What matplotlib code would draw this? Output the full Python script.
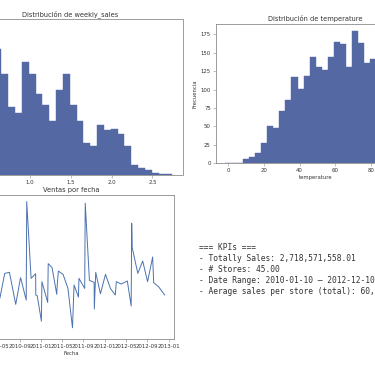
import numpy as np
import pandas as pd
import matplotlib
matplotlib.use("Agg")
import matplotlib.pyplot as plt
import matplotlib.dates as mdates

# ---------------- data ----------------
# weekly_sales histogram (millions), 30 bins between min and max
ws_min, ws_max = 0.227, 2.743
ws_counts = [120, 202, 182, 174, 171, 137, 93, 85, 154, 138,
             110, 95, 74, 116, 138, 96, 73, 44, 39, 68,
             61, 63, 56, 40, 13, 10, 7, 3, 2, 1]

# temperature histogram, 30 bins between min and max
t_min, t_max = -2.06, 100.14
t_counts = [1, 0, 1, 6, 9, 14, 27, 50, 48, 71,
            86, 117, 101, 119, 144, 130, 126, 144, 164, 162,
            131, 180, 163, 136, 142, 110, 88, 57, 29, 9]

# sales per date (millions)
dates = ["2010-01-10", "2010-02-04", "2010-02-07", "2010-03-09", "2010-03-12",
         "2010-04-06", "2010-05-02", "2010-05-03", "2010-05-11", "2010-06-08",
         "2010-07-05", "2010-08-10", "2010-09-04", "2010-09-07", "2010-10-09",
         "2010-10-12", "2010-11-06", "2010-12-02", "2010-12-03", "2010-12-11",
         "2011-01-04", "2011-01-07", "2011-02-09", "2011-02-12", "2011-03-06",
         "2011-04-02", "2011-04-03", "2011-04-11", "2011-05-08", "2011-06-05",
         "2011-07-01", "2011-07-10", "2011-08-04", "2011-08-07", "2011-09-09",
         "2011-09-12", "2011-10-06", "2011-11-02", "2011-11-03", "2011-11-11",
         "2011-12-08", "2012-01-06", "2012-02-03", "2012-03-02", "2012-03-08",
         "2012-04-05", "2012-05-10", "2012-06-01", "2012-06-04", "2012-06-07",
         "2012-07-09", "2012-08-06", "2012-09-03", "2012-10-02", "2012-10-08",
         "2012-11-05", "2012-12-10"]
sales = [42.24, 50.42, 48.92, 45.63, 49.91,
         50.19, 49.75, 46.87, 45.73, 48.30,
         48.41, 45.12, 47.62, 47.86, 45.56,
         55.67, 47.79, 48.27, 46.08, 46.02,
         43.40, 47.45, 45.32, 49.30, 48.89,
         46.15, 46.66, 48.54, 48.20, 46.76,
         42.72, 47.11, 45.87, 47.79, 46.76,
         55.50, 47.58, 47.38, 44.64, 48.41,
         46.21, 48.20, 46.76, 46.08, 47.45,
         47.21, 47.52, 44.95, 53.44, 50.94,
         48.30, 49.57, 47.45, 49.98, 47.34,
         46.93, 46.08]

kpi_lines = ["=== KPIs ===",
             "- Totally Sales: 2,718,571,558.01",
             "- # Stores: 45.00",
             "- Date Range: 2010-01-10 \u2013 2012-12-10",
             "- Aerage sales per store (total): 60,412,701.29"]

# ---------------- style ----------------
plt.rcParams['font.family'] = ['DejaVu Sans']
BAR = '#5468a4'
LINE = '#4c72b0'
SPINE = '#8c8c8c'
TXT = '#333333'

W, H = 375, 366
fig = plt.figure(figsize=(W / 100, H / 100), dpi=100)
fig.patch.set_facecolor('white')


def px_axes(l, t, r, b):
    return fig.add_axes([l / W, 1 - b / H, (r - l) / W, (b - t) / H])


def style(ax):
    for s in ax.spines.values():
        s.set_color(SPINE)
        s.set_linewidth(0.6)
    ax.tick_params(labelsize=3.9, length=2, width=0.4, pad=1.5,
                   colors=SPINE, labelcolor=TXT)


# weekly_sales histogram
ax1 = px_axes(-43, 19.3, 182.5, 175)
edges = np.linspace(ws_min, ws_max, len(ws_counts) + 1)
ax1.bar(edges[:-1], ws_counts, width=np.diff(edges), align='edge',
        color=BAR, edgecolor=BAR, linewidth=0.3)
rng = ws_max - ws_min
ax1.set_xlim(ws_min - 0.05 * rng, ws_max + 0.05 * rng)
ax1.set_ylim(0, max(ws_counts) * 1.05)
ax1.set_xticks([0.5, 1.0, 1.5, 2.0, 2.5])
ax1.set_title("Distribución de weekly_sales", fontsize=4.8, pad=2.5, color=TXT)
style(ax1)

# temperature histogram
ax2 = px_axes(215.7, 24, 415.7, 163.3)
tedges = np.linspace(t_min, t_max, len(t_counts) + 1)
ax2.bar(tedges[:-1], t_counts, width=np.diff(tedges), align='edge',
        color=BAR, edgecolor=BAR, linewidth=0.3)
trng = t_max - t_min
ax2.set_xlim(t_min - 0.05 * trng, t_max + 0.05 * trng)
ax2.set_ylim(0, max(t_counts) * 1.05)
ax2.set_xticks([0, 20, 40, 60, 80, 100])
ax2.set_yticks([0, 25, 50, 75, 100, 125, 150, 175])
ax2.set_title("Distribución de temperature", fontsize=4.8, pad=2.5, color=TXT)
ax2.set_xlabel("temperature", fontsize=3.8, labelpad=1.5, color=TXT)
ax2.set_ylabel("Frecuencia", fontsize=3.8, labelpad=2, color=TXT)
style(ax2)

# sales per date
ax3 = px_axes(-30.6, 195, 174, 339)
d = pd.to_datetime(dates)
ax3.plot(d, np.array(sales) * 1e6, color=LINE, linewidth=0.7)
ax3.xaxis.set_major_locator(mdates.MonthLocator(bymonth=[1, 5, 9]))
ax3.xaxis.set_major_formatter(mdates.DateFormatter('%Y-%m'))
ax3.set_title("Ventas por fecha", fontsize=4.8, pad=2.5, color=TXT)
ax3.set_xlabel("Fecha", fontsize=3.8, labelpad=1.5, color=TXT)
style(ax3)

# KPI text
y0 = 247.3
for i, line in enumerate(kpi_lines):
    fig.text(199.3 / W, 1 - (y0 + 11 * i) / H, line, fontsize=5.7,
             family='DejaVu Sans Mono', color=TXT, va='center', ha='left')

fig.savefig("out.png", dpi=100, facecolor='white')
